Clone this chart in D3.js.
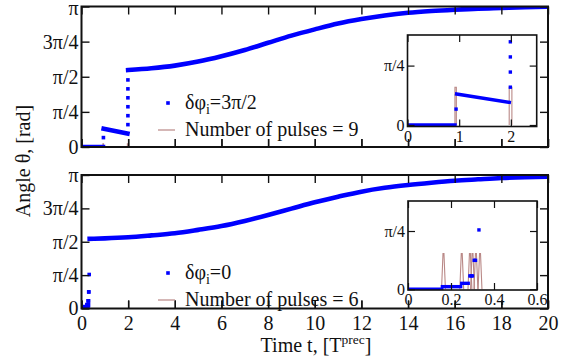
<!DOCTYPE html>
<html>
<head>
<meta charset="utf-8">
<script src="https://cdn.jsdelivr.net/npm/d3@7"></script>
<style>
  body { margin: 0; background: #fff; }
  svg { display: block; }
  svg text { font-family: "Liberation Serif", "Times New Roman", serif; fill: #111; }
</style>
</head>
<body>
<svg id="chart" width="577" height="362"></svg>
<script>
const PI = Math.PI;

// ---- axes ----
const timeTicks = [0, 2, 4, 6, 8, 10, 12, 14, 16, 18, 20];
const angleTicks = [0, PI / 4, PI / 2, 3 * PI / 4, PI];
const angleTickLabels = ["0", "π/4", "π/2", "3π/4", "π"];
const insetAngleTicks = [0, PI / 4];
const insetAngleLabels = ["0", "π/4"];
const insetTicksA = [0, 1, 2];
const insetTicksB = [0, 0.2, 0.4, 0.6];
const insetTickLabelsB = ["0", "0.2", "0.4", "0.6"];

// ---- run A: δφi = 3π/2 ----
const aFlatT = [0, 0.92];
const aFlatV = [0, 0];
const aSlopeT = [0.95, 1.97];
const aSlopeV = [0.41, 0.30];
const aDotsT = [0.94, 1.99, 1.99, 1.99, 1.99, 1.99, 1.99];
const aDotsV = [0.21, 0.50, 0.70, 0.90, 1.10, 1.30, 1.50];
const aCurveT = [2, 3, 4, 5, 6, 7, 8, 9, 10, 11, 12, 13, 14, 15, 16, 17, 18, 19, 20];
const aCurveV = [1.72, 1.76, 1.82, 1.91, 2.03, 2.17, 2.33, 2.49, 2.63, 2.76, 2.86, 2.94, 3.00, 3.04, 3.07, 3.095, 3.11, 3.125, 3.135];
const aPulseStart = [0.918, 1.968];
const aPulseEnd = [0.945, 2.020];
const aPulseCount = 9;
const aPulseLevelMain = 0.07;
const aPulseLevelInset = 0.50;

// ---- run B: δφi = 0 ----
const bStepStart = [0, 0.160, 0.250];
const bStepEnd = [0.157, 0.245, 0.280];
const bStepV = [0, 0.035, 0.08];
const bDotsT = [0.288, 0.294, 0.300, 0.308, 0.314, 0.330];
const bDotsV = [0.18, 0.18, 0.18, 0.39, 0.39, 0.80];
const bCurveT = [0.35, 1, 2, 3, 4, 5, 6, 7, 8, 9, 10, 11, 12, 13, 14, 15, 16, 17, 18, 19, 20];
const bCurveV = [1.64, 1.65, 1.676, 1.72, 1.77, 1.85, 1.94, 2.06, 2.20, 2.35, 2.50, 2.63, 2.75, 2.84, 2.906, 2.96, 3.007, 3.04, 3.071, 3.09, 3.10];
const bPulseCenter = [0.165, 0.250, 0.288, 0.300, 0.316, 0.335];
const bPulseHalf = 0.009;
const bPulseLevelMain = 0.06;
const bPulseLevelInset = 0.48;

// ---- style ----
const BLUE = "#0000ff";
const PULSE = "#b98886";
const INK = "#111";

const svg = d3.select("#chart");
const defs = svg.append("defs");
let clipId = 0;

function zip(a, b) { return a.map((v, i) => [v, b[i]]); }

function drawAxes(g, x, y, o) {
  const [x0, x1] = x.range();
  const [y0, y1] = y.range();
  const none = () => "";
  g.append("g").attr("transform", `translate(0,${y0})`)
    .call(d3.axisBottom(x).tickValues(o.xTicks).tickSize(-o.tick).tickPadding(o.xPad)
      .tickFormat(o.xFmt || none));
  g.append("g").attr("transform", `translate(0,${y1})`)
    .call(d3.axisTop(x).tickValues(o.xTicks).tickSize(-o.tick).tickFormat(none));
  const left = g.append("g").attr("transform", `translate(${x0},0)`)
    .call(d3.axisLeft(y).tickValues(o.yTicks).tickSize(-o.tick).tickPadding(o.yPad)
      .tickFormat(o.yFmt || none));
  g.append("g").attr("transform", `translate(${x1},0)`)
    .call(d3.axisRight(y).tickValues(o.yTicks).tickSize(-o.tick).tickFormat(none));
  g.selectAll(".domain").remove();
  g.selectAll(".tick line").attr("stroke", INK).attr("stroke-width", o.tickWidth);
  g.selectAll(".tick text").style("font-size", o.fontSize + "px");
  // keep the label at the top end inside the page
  if (o.topLabelShift) {
    left.selectAll(".tick").filter(d => d === o.yTicks[o.yTicks.length - 1])
      .select("text").attr("y", o.topLabelShift);
  }
  g.append("rect")
    .attr("x", x0).attr("y", y1).attr("width", x1 - x0).attr("height", y0 - y1)
    .attr("fill", "none").attr("stroke", INK).attr("stroke-width", o.frameWidth);
}

function clipFor(x, y) {
  const id = "clip" + (clipId++);
  const [x0, x1] = x.range();
  const [y0, y1] = y.range();
  defs.append("clipPath").attr("id", id).append("rect")
    .attr("x", x0).attr("y", y1).attr("width", x1 - x0).attr("height", y0 - y1);
  return `url(#${id})`;
}

function band(g, x, y, pts, w) {
  g.append("path")
    .datum(pts)
    .attr("d", d3.line().x(d => x(d[0])).y(d => y(d[1])).curve(d3.curveMonotoneX))
    .attr("fill", "none").attr("stroke", BLUE).attr("stroke-width", w)
    .attr("stroke-linecap", "square").attr("stroke-linejoin", "round");
}

function dots(g, x, y, pts, s) {
  g.selectAll(null).data(pts).join("rect")
    .attr("x", d => x(d[0]) - s / 2).attr("y", d => y(d[1]) - s / 2)
    .attr("width", s).attr("height", s).attr("fill", BLUE);
}

function pulses(g, x, y, starts, ends, level, rise) {
  const line = d3.line().x(d => x(d[0])).y(d => y(d[1]));
  starts.forEach((s, i) => {
    const e = ends[i];
    g.append("path")
      .attr("d", line([[s, 0], [s + rise, level], [e - rise, level], [e, 0]]))
      .attr("fill", "none").attr("stroke", PULSE).attr("stroke-width", 1.1);
  });
}

function drawRunA(g, x, y, level, w, s) {
  pulses(g, x, y, aPulseStart, aPulseEnd, level, 0);
  band(g, x, y, zip(aFlatT, aFlatV), w);
  band(g, x, y, zip(aSlopeT, aSlopeV), w);
  band(g, x, y, zip(aCurveT, aCurveV), w);
  dots(g, x, y, zip(aDotsT, aDotsV), s);
}

const bPulseStart = bPulseCenter.map(c => c - bPulseHalf);
const bPulseEnd = bPulseCenter.map(c => c + bPulseHalf);

function drawRunB(g, x, y, level, w, s) {
  pulses(g, x, y, bPulseStart, bPulseEnd, level, bPulseHalf * 0.75);
  bStepStart.forEach((t0, i) => band(g, x, y, [[t0, bStepV[i]], [bStepEnd[i], bStepV[i]]], w));
  band(g, x, y, zip(bCurveT, bCurveV), w);
  dots(g, x, y, zip(bDotsT, bDotsV), s);
}

// ---- scales ----
const x = d3.scaleLinear().domain([0, 20]).range([81.5, 548]);
const yTop = d3.scaleLinear().domain([0, PI]).range([147, 6.5]);
const yBot = d3.scaleLinear().domain([0, PI]).range([308.5, 175]);

const xInA = d3.scaleLinear().domain([0, 2.5]).range([407.5, 536.7]);
const yInA = d3.scaleLinear().domain([-0.02, 1.19]).range([126.5, 35]);
const xInB = d3.scaleLinear().domain([0, 0.6]).range([408, 537]);
const yInB = d3.scaleLinear().domain([-0.01, 1.19]).range([290, 201]);

const mainAxis = {
  xTicks: timeTicks, yTicks: angleTicks, tick: 8, xPad: 7, yPad: 3,
  yFmt: (d, i) => angleTickLabels[i], fontSize: 20, tickWidth: 1.4, frameWidth: 2
};

// ---- top panel ----
const gTop = svg.append("g");
const dTop = gTop.append("g").attr("clip-path", clipFor(x, yTop));
drawRunA(dTop, x, yTop, aPulseLevelMain, 4.6, 3.6);
drawAxes(gTop, x, yTop, Object.assign({}, mainAxis, { topLabelShift: 1.5 }));

// ---- bottom panel ----
const gBot = svg.append("g");
const dBot = gBot.append("g").attr("clip-path", clipFor(x, yBot));
drawRunB(dBot, x, yBot, bPulseLevelMain, 4.6, 3.6);
drawAxes(gBot, x, yBot, Object.assign({}, mainAxis, { xFmt: d => d3.format("d")(d) }));

// ---- legends ----
function legend(g, lx, baseline, subTail, count) {
  g.append("rect").attr("x", lx - 1.8 - 17).attr("y", baseline - 6 - 1.8)
    .attr("width", 3.6).attr("height", 3.6).attr("fill", BLUE);
  const t1 = g.append("text").attr("x", lx).attr("y", baseline).style("font-size", "20px");
  t1.append("tspan").text("δφ");
  t1.append("tspan").style("font-size", "14px").attr("dy", 5).text("i");
  t1.append("tspan").attr("dy", -5).text(subTail);
  const b2 = baseline + 27;
  g.append("line").attr("x1", lx - 27).attr("x2", lx - 10)
    .attr("y1", b2 - 6).attr("y2", b2 - 6)
    .attr("stroke", PULSE).attr("stroke-width", 1.2);
  g.append("text").attr("x", lx).attr("y", b2).style("font-size", "20px")
    .text("Number of pulses = " + count);
}
legend(svg, 185, 109, "=3π/2", aPulseCount);
legend(svg, 185, 279, "=0", bPulseCenter.length);

// ---- insets ----
const insetAxis = {
  yTicks: insetAngleTicks, tick: 7, xPad: 4, yPad: 3,
  yFmt: (d, i) => insetAngleLabels[i], fontSize: 16, tickWidth: 1.2, frameWidth: 1.6
};

const gInA = svg.append("g");
gInA.append("rect").attr("x", 407.5).attr("y", 35).attr("width", 536.7 - 407.5).attr("height", 126.5 - 35).attr("fill", "#fff");
const dInA = gInA.append("g").attr("clip-path", clipFor(xInA, yInA));
drawRunA(dInA, xInA, yInA, aPulseLevelInset, 3.4, 3.4);
drawAxes(gInA, xInA, yInA, Object.assign({}, insetAxis, { xTicks: insetTicksA, xFmt: d3.format("d") }));

const gInB = svg.append("g");
gInB.append("rect").attr("x", 408).attr("y", 201).attr("width", 537 - 408).attr("height", 290 - 201).attr("fill", "#fff");
const dInB = gInB.append("g").attr("clip-path", clipFor(xInB, yInB));
drawRunB(dInB, xInB, yInB, bPulseLevelInset, 3.4, 3.4);
drawAxes(gInB, xInB, yInB, Object.assign({}, insetAxis, { xTicks: insetTicksB, xFmt: (d, i) => insetTickLabelsB[i] }));

// main x ticks sit over the inset labels
svg.selectAll(null).data(timeTicks).join("line")
  .attr("x1", d => x(d) + 0.5).attr("x2", d => x(d) + 0.5)
  .attr("y1", 147).attr("y2", 139)
  .attr("stroke", INK).attr("stroke-width", 1.4);
svg.selectAll(null).data(timeTicks).join("line")
  .attr("x1", d => x(d) + 0.5).attr("x2", d => x(d) + 0.5)
  .attr("y1", 308.5).attr("y2", 300.5)
  .attr("stroke", INK).attr("stroke-width", 1.4);

// ---- axis titles ----
const xt = svg.append("text").attr("x", 316).attr("y", 352).attr("text-anchor", "middle")
  .style("font-size", "20px");
xt.append("tspan").text("Time t, [T");
xt.append("tspan").style("font-size", "13.5px").attr("dy", -8.5).text("prec");
xt.append("tspan").attr("dy", 8.5).text("]");

svg.append("text").attr("transform", "translate(29.5,161) rotate(-90)")
  .attr("text-anchor", "middle").style("font-size", "20px")
  .text("Angle θ, [rad]");
</script>
</body>
</html>
